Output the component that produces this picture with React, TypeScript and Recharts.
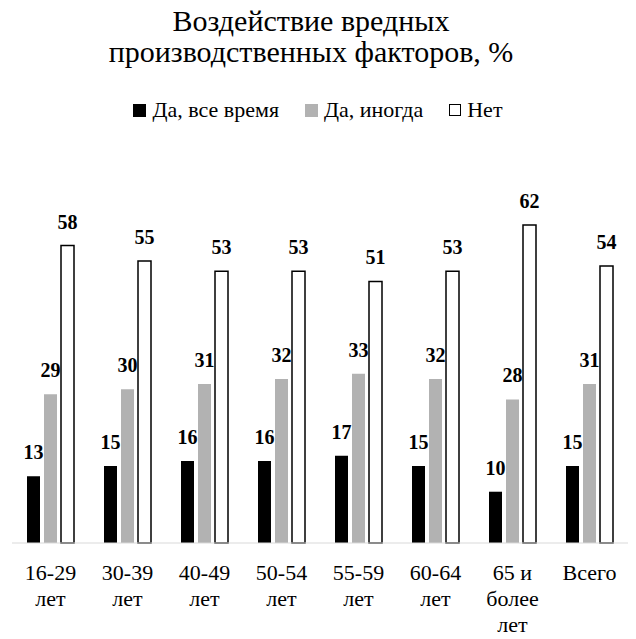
import { Bar, BarChart, LabelList, Legend, XAxis, YAxis } from "recharts";

const categories = ["16-29\nлет", "30-39\nлет", "40-49\nлет", "50-54\nлет", "55-59\nлет", "60-64\nлет", "65 и\nболее\nлет", "Всего"];
const allTime = [13, 15, 16, 16, 17, 15, 10, 15];
const sometimes = [29, 30, 31, 32, 33, 32, 28, 31];
const never = [58, 55, 53, 53, 51, 53, 62, 54];

const seriesNames = ["Да, все время", "Да, иногда", "Нет"];

const data = categories.map((label, i) => ({
  label,
  allTime: allTime[i],
  sometimes: sometimes[i],
  never: never[i],
}));

const serif = '"Liberation Serif"';

const legendItems = [
  { name: seriesNames[0], fill: "#000000", stroke: "#000000" },
  { name: seriesNames[1], fill: "#b2b2b2", stroke: "#b2b2b2" },
  { name: seriesNames[2], fill: "#ffffff", stroke: "#000000" },
];

function LegendContent() {
  return (
    <div style={{ display: "flex", justifyContent: "center", fontSize: 22, lineHeight: "24px" }}>
      {legendItems.map((it, i) => (
        <div key={it.name} style={{ display: "flex", alignItems: "center", marginLeft: i === 0 ? 0 : 26 }}>
          <span
            style={{
              display: "inline-block",
              width: it.stroke !== it.fill ? 10 : 13,
              height: it.stroke !== it.fill ? 10 : 13,
              background: it.fill,
              border: it.stroke !== it.fill ? `1.5px solid ${it.stroke}` : "none",
              marginRight: 6,
            }}
          />
          <span>{it.name}</span>
        </div>
      ))}
    </div>
  );
}

function CategoryTick(props: any) {
  const { x, y, payload } = props;
  const lines = String(payload.value).split("\n");
  return (
    <text x={x} y={y} textAnchor="middle" fontSize={22} fill="#000">
      {lines.map((l: string, i: number) => (
        <tspan key={i} x={x} dy={i === 0 ? 29 : 26}>
          {l}
        </tspan>
      ))}
    </text>
  );
}

const labelStyle = { fontSize: 20, fontWeight: 700, fill: "#000" };

export default function App() {
  return (
    <div style={{ position: "relative", width: 636, height: 639, background: "#fff" }}>
      <style>{`body { margin: 0; } #root, #root * { font-family: ${serif} !important; }`}</style>
      <svg width={636} height={80} style={{ position: "absolute", left: 0, top: 0 }}>
        <text x={311} y={31} textAnchor="middle" fontSize={30} fill="#000">
          Воздействие вредных
        </text>
        <text x={311} y={62} textAnchor="middle" fontSize={30} fill="#000">
          производственных факторов, %
        </text>
      </svg>
      <BarChart
        width={636}
        height={639}
        data={data}
        margin={{ top: 160, right: 8, left: 12, bottom: 0 }}
        barSize={13}
        barGap={4}
      >
        <XAxis
          dataKey="label"
          height={96}
          tickLine={false}
          axisLine={{ stroke: "#d9d9d9", strokeWidth: 1 }}
          tick={<CategoryTick />}
          interval={0}
        />
        <YAxis hide domain={[0, 70]} />
        <Legend verticalAlign="top" content={<LegendContent />} wrapperStyle={{ top: 98, left: 0, width: 636 }} />
        <Bar dataKey="allTime" name={seriesNames[0]} fill="#000000" isAnimationActive={false}>
          <LabelList dataKey="allTime" position="top" offset={17} style={labelStyle} />
        </Bar>
        <Bar dataKey="sometimes" name={seriesNames[1]} fill="#b2b2b2" isAnimationActive={false}>
          <LabelList dataKey="sometimes" position="top" offset={17} style={labelStyle} />
        </Bar>
        <Bar dataKey="never" name={seriesNames[2]} fill="#ffffff" stroke="#000000" strokeWidth={1.5} isAnimationActive={false}>
          <LabelList dataKey="never" position="top" offset={17} style={labelStyle} />
        </Bar>
      </BarChart>
    </div>
  );
}
